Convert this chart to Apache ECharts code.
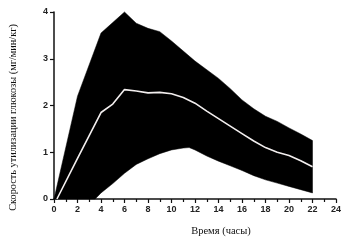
<!DOCTYPE html>
<html><head><meta charset="utf-8">
<script src="https://cdn.jsdelivr.net/npm/echarts@6/dist/echarts.min.js"></script>
<style>html,body{margin:0;padding:0;background:#fff}#c{width:351px;height:242px}</style>
</head><body><div id="c"></div>
<script>
// Upper boundary of the band (hours, rate)
var upperX = [0, 2, 4, 6, 7, 8, 9, 10, 12, 14, 15, 16, 17, 18, 19, 20, 21, 22];
var upperY = [0, 2.2, 3.55, 4.0, 3.76, 3.65, 3.58, 3.38, 2.95, 2.58, 2.36, 2.12, 1.93, 1.77, 1.66, 1.52, 1.39, 1.25];
// Lower boundary of the band
var lowerX = [3.5, 4, 5, 6, 7, 8, 9, 10, 11, 11.5, 12, 13, 14, 15, 16, 17, 18, 19, 20, 21, 22];
var lowerY = [0, 0.13, 0.33, 0.55, 0.74, 0.86, 0.97, 1.05, 1.09, 1.1, 1.05, 0.92, 0.81, 0.71, 0.61, 0.5, 0.41, 0.34, 0.27, 0.2, 0.13];
// Mean line
var meanX = [0.25, 2, 4, 5, 6, 7, 8, 9, 10, 11, 12, 13, 14, 15, 16, 17, 18, 19, 20, 21, 22];
var meanY = [0, 0.87, 1.85, 2.03, 2.34, 2.31, 2.27, 2.28, 2.25, 2.17, 2.05, 1.88, 1.72, 1.56, 1.4, 1.24, 1.1, 1.0, 0.93, 0.82, 0.69];
var xTicks = [0, 2, 4, 6, 8, 10, 12, 14, 16, 18, 20, 22, 24];
var yTicks = [0, 1, 2, 3, 4];
var xName = 'Время (часы)';
var yName = 'Скорость утилизации глюкозы (мг/мин/кг)';

var bandPts = [];
for (var i = 0; i < upperX.length; i++) bandPts.push([upperX[i], upperY[i]]);
for (var j = lowerX.length - 1; j >= 0; j--) bandPts.push([lowerX[j], lowerY[j]]);
var meanData = meanX.map(function (x, k) { return [x, meanY[k]]; });

var chart = echarts.init(document.getElementById('c'), null, {renderer: 'canvas'});
var labelStyle = {color: '#222', fontFamily: 'Liberation Sans', fontWeight: 'bold', fontSize: 9};
chart.setOption({
  animation: false,
  grid: {left: 52, right: 15, top: 12, bottom: 41},
  xAxis: {
    type: 'value', min: xTicks[0], max: xTicks[xTicks.length - 1], interval: 2,
    name: xName, nameLocation: 'middle', nameGap: 27,
    nameTextStyle: {fontFamily: 'Liberation Serif', fontSize: 10.5, color: '#111', padding: [0, 0, 0, 52]},
    axisLine: {onZero: false, lineStyle: {color: '#111', width: 1.5}},
    axisTick: {length: 4, lineStyle: {color: '#111', width: 1.2}},
    minorTick: {show: true, splitNumber: 2, length: 3, lineStyle: {color: '#111', width: 1.2}},
    axisLabel: Object.assign({margin: 6}, labelStyle),
    splitLine: {show: false}
  },
  yAxis: {
    type: 'value', min: yTicks[0], max: yTicks[yTicks.length - 1], interval: 1,
    name: yName, nameLocation: 'middle', nameGap: 36, nameRotate: 90,
    nameTextStyle: {fontFamily: 'Liberation Serif', fontSize: 10.3, color: '#111', padding: [0, 24, 0, 0]},
    axisLine: {show: true, lineStyle: {color: '#111', width: 1.5}},
    axisTick: {show: true, length: 4, lineStyle: {color: '#111', width: 1.2}},
    axisLabel: Object.assign({margin: 6}, labelStyle),
    splitLine: {show: false}
  },
  series: [
    {
      type: 'custom', z: 2, silent: true,
      data: [[0, 0]],
      renderItem: function (params, api) {
        var pts = bandPts.map(function (p) { return api.coord(p); });
        return {type: 'polygon', shape: {points: pts}, style: {fill: '#000', stroke: '#000', lineWidth: 0.5}};
      }
    },
    {
      type: 'line', z: 3, data: meanData, showSymbol: false, symbol: 'none',
      lineStyle: {color: '#f2eeee', width: 1.6}
    }
  ]
});
</script></body></html>
